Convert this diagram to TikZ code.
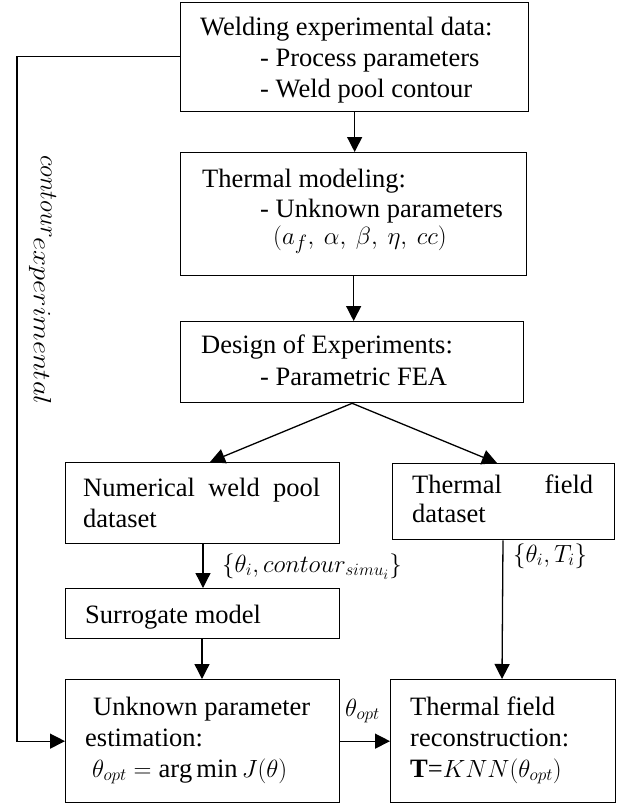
\documentclass[tikz,border=0pt]{standalone}
\usepackage{fontspec}
\setmainfont{Liberation Serif}
\newfontfamily\tnr{Liberation Serif}
\usetikzlibrary{arrows.meta,calc}
\begin{document}
\begin{tikzpicture}[x=1pt,y=-1pt,
  box/.style={draw, line width=1.3pt, inner sep=0pt, anchor=north west},
  txt/.style={inner sep=0pt, anchor=base west, font=\tnr\fontsize{26.5}{31}\selectfont},
  lbl/.style={inner sep=0pt, anchor=base west, font=\tnr\fontsize{27}{31}\selectfont},
  arr/.style={line width=1.3pt, -{Triangle[length=15pt,width=15pt]}},
]
\useasboundingbox (0,0) rectangle (622,804);

% boxes
\node[box, minimum width=348pt, minimum height=109pt] (b1) at (180,1.5) {};
\node[box, minimum width=346pt, minimum height=123pt] (b2) at (180,152) {};
\node[box, minimum width=343pt, minimum height=81pt] (b3) at (180,321) {};
\node[box, minimum width=274pt, minimum height=81pt] (b4) at (65,462) {};
\node[box, minimum width=222pt, minimum height=76pt] (b5) at (392,463) {};
\node[box, minimum width=274pt, minimum height=50pt] (b6) at (65,588) {};
\node[box, minimum width=274pt, minimum height=123pt] (b7) at (65,679) {};
\node[box, minimum width=225pt, minimum height=123pt] (b8) at (390,679) {};

% texts
\node[txt] (t11) at (200,35) {Welding experimental data:};
\node[txt] (t12) at (260,66) {- Process parameters};
\node[txt] (t13) at (260,97) {- Weld pool contour};

\node[txt] (t21) at (202,187) {Thermal modeling:};
\node[txt] (t22) at (260,217) {- Unknown parameters};
\node[txt, font=\tnr\fontsize{28}{31}\selectfont] (t23) at (273,244) {$(a_f,\mskip4mu\alpha,\mskip4mu\beta,\mskip4mu\eta,\mskip4mu cc)$};

\node[txt] (t31) at (201,353) {Design of Experiments:};
\node[txt] (t32) at (260,385) {- Parametric FEA};

\node[txt] (t41) at (83,496) {\makebox[237pt][s]{Numerical weld pool}};
\node[txt] (t42) at (83,527) {dataset};

\node[txt] (t51) at (412,493) {\makebox[181pt][s]{Thermal field}};
\node[txt] (t52) at (412,522) {dataset};

\node[txt] (t61) at (85,623) {Surrogate model};

\node[txt] (t71) at (93,715) {Unknown parameter};
\node[txt] (t72) at (85,746) {estimation:};
\node[txt] (t73) at (92,777) {$\theta_{opt} = \arg\min J(\theta)$};

\node[txt] (t81) at (410,715) {Thermal field};
\node[txt] (t82) at (410,746) {reconstruction:};
\node[txt] (t83) at (410,777) {\textbf{T}=$KNN(\theta_{opt})$};

% labels
\node[lbl] (l1) at (345,716) {$\theta_{opt}$};
\node[lbl] (l2) at (222,572) {$\{\theta_i,contour_{simu_i}\}$};
\node[lbl] (l3) at (513,562) {$\{\theta_i,T_i\}$};
\node[lbl, rotate=-90] (l4) at (41,155)
  {\fontsize{29}{31}\selectfont$contour$\raisebox{-7pt}{\fontsize{25}{26}\selectfont\scalebox{1.15}[1]{$experimental$}}};

% connectors
\draw[arr] (b1.south) -- (b1.south |- b2.north);
\draw[arr] (b2.south) -- (b2.south |- b3.north);
\draw[arr] (b3.south) -- ($(b4.north west)+(145,0)$);
\draw[arr] (b3.south) -- ($(b5.north west)+(105,0)$);
\draw[arr] ($(b4.south west)+(138,0)$) -- ($(b6.north west)+(138,0)$);
\draw[arr] ($(b6.south west)+(137,0)$) -- ($(b7.north west)+(137,0)$);
\draw[arr] ($(b5.south west)+(111,0)$) -- ($(b8.north west)+(112,0)$);
\draw[arr] (b7.east) -- (b8.west);
\coordinate (fb) at ($(b7.west)+(-48,0)$);
\draw[arr] (b1.west) -| (fb) -- (b7.west);
\end{tikzpicture}
\end{document}
